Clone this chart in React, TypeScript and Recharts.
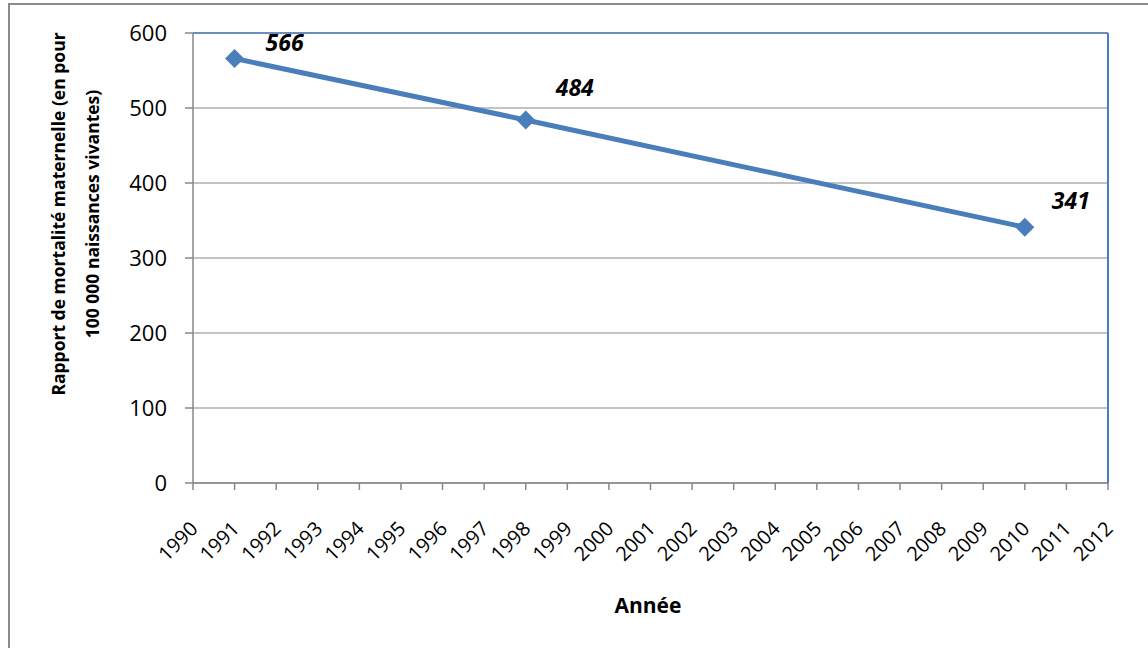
import { LineChart, Line, XAxis, YAxis, CartesianGrid, ReferenceLine, LabelList } from 'recharts'

const years = [1991, 1998, 2010]
const ratios = [566, 484, 341]
const xTicks = [1990, 1991, 1992, 1993, 1994, 1995, 1996, 1997, 1998, 1999, 2000, 2001, 2002, 2003, 2004, 2005, 2006, 2007, 2008, 2009, 2010, 2011, 2012]
const yTicks = [0, 100, 200, 300, 400, 500, 600]
const yTitle = ['Rapport de mortalité maternelle (en pour', '100 000 naissances vivantes)']
const xTitle = 'Année'

const data = years.map((y, i) => ({ year: y, ratio: ratios[i] }))

const FONT = '"Open Sans", Calibri, sans-serif'
const BLUE = '#4a7ebb'
const GRID = '#878787'

// nudges for the value labels, as they sit in the source
const labelNudge = [
  { dx: 50, dy: -17 },
  { dx: 49, dy: -33 },
  { dx: 46, dy: -27 },
]

function Diamond(props: any) {
  const { cx, cy } = props
  if (cx == null || cy == null) return null
  const r = 9.5
  return <polygon points={`${cx},${cy - r} ${cx + r},${cy} ${cx},${cy + r} ${cx - r},${cy}`} fill={BLUE} />
}

function YearTick(props: any) {
  const { x, y, payload } = props
  const tx = x + 6
  const ty = y + 38
  return (
    <text x={tx} y={ty} transform={`rotate(-45, ${tx}, ${ty})`} textAnchor="end" fontFamily={FONT} fontSize={20} fill="#000">
      {payload.value}
    </text>
  )
}

function ValueLabel(props: any) {
  const { x, y, value, index } = props
  const n = labelNudge[index] ?? { dx: 48, dy: -25 }
  return (
    <text
      x={x + n.dx}
      y={y + n.dy}
      textAnchor="middle"
      dominantBaseline="central"
      fontFamily={FONT}
      fontSize={23}
      fontWeight="bold"
      fontStyle="italic"
      fill="#000"
    >
      {value}
    </text>
  )
}

function YTitle() {
  return (
    <text transform="rotate(-90, 75, 214)" x={75} y={214} textAnchor="middle" fontFamily={FONT} fontSize={17.5} fontWeight="bold" fill="#000">
      <tspan x={75} dy={-10}>{yTitle[0]}</tspan>
      <tspan x={75} dy={34}>{yTitle[1]}</tspan>
    </text>
  )
}

function XTitle() {
  return (
    <text x={648} y={605} textAnchor="middle" dominantBaseline="central" fontFamily={FONT} fontSize={21} fontWeight="bold" fill="#000">
      {xTitle}
    </text>
  )
}

export default function App() {
  return (
    <div style={{ position: 'fixed', left: 0, top: 0, width: 1148, height: 648, overflow: 'hidden', background: '#fff' }}>
      <div style={{ position: 'absolute', left: 8, top: 3, width: 1200, height: 700, border: '2px solid #8a8a8a', boxSizing: 'border-box' }} />
      <div style={{ position: 'absolute', left: 0, top: 0 }}>
        <LineChart width={1148} height={648} data={data} margin={{ top: 33, right: 40, left: 0, bottom: 0 }}>
          <CartesianGrid vertical={false} stroke={GRID} strokeWidth={1.2} />
          <XAxis
            dataKey="year"
            type="number"
            domain={[1990, 2012]}
            ticks={xTicks}
            interval={0}
            height={165}
            stroke={GRID}
            strokeWidth={1.5}
            tickSize={7}
            tick={<YearTick />}
            label={<XTitle />}
          />
          <YAxis
            domain={[0, 600]}
            ticks={yTicks}
            width={193}
            stroke={GRID}
            strokeWidth={1.5}
            tickSize={8}
            tickMargin={18}
            tick={{ fontFamily: FONT, fontSize: 22, fill: '#000' }}
            label={<YTitle />}
          />
          <ReferenceLine y={600} stroke={BLUE} strokeWidth={1.5} />
          <ReferenceLine x={2012} stroke={BLUE} strokeWidth={2} />
          <Line
            type="linear"
            dataKey="ratio"
            stroke={BLUE}
            strokeWidth={5}
            dot={<Diamond />}
            activeDot={false}
            isAnimationActive={false}
          >
            <LabelList dataKey="ratio" content={<ValueLabel />} />
          </Line>
        </LineChart>
      </div>
    </div>
  )
}
